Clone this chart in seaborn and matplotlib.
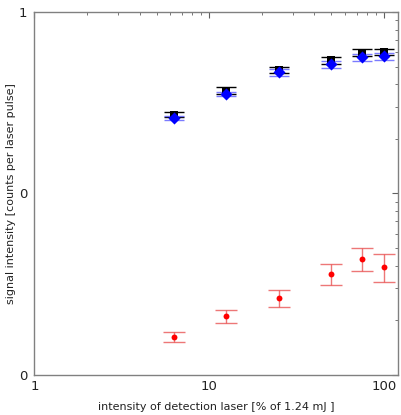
import matplotlib
matplotlib.use("Agg")
import matplotlib.pyplot as plt
import matplotlib.ticker as mticker
import pandas as pd
import seaborn as sns

# --- Data ---
laser_pct = [6.25, 12.5, 25, 50, 75, 100]

black_signal = [0.272, 0.369, 0.482, 0.541, 0.597, 0.601]
black_err = [0.008, 0.016, 0.018, 0.026, 0.025, 0.025]

blue_signal = [0.261, 0.354, 0.466, 0.514, 0.564, 0.569]
blue_err = [0.007, 0.009, 0.022, 0.024, 0.024, 0.024]

red_signal = [0.0162, 0.0210, 0.0264, 0.0360, 0.0436, 0.0395]
red_err = [0.0011, 0.0018, 0.0028, 0.0047, 0.0061, 0.0070]

y_tick_vals = [0.01, 0.1, 1]
y_tick_labels = ["0", "0", "1"]
x_tick_vals = [1, 10, 100]
x_tick_labels = ["1", "10", "100"]

sns.set_style("white")
plt.rcParams["font.family"] = ["DejaVu Sans"]

fig = plt.figure(figsize=(4.01, 4.15), dpi=100)
ax = fig.add_axes([0.086, 0.097, 0.906, 0.874])

# error bars first, markers on top
ax.errorbar(laser_pct, black_signal, yerr=black_err, fmt="none",
            ecolor="black", elinewidth=1.0, capsize=7.5, capthick=1.0, zorder=2)
ax.errorbar(laser_pct, blue_signal, yerr=blue_err, fmt="none",
            ecolor="#5a5aff", elinewidth=1.0, capsize=7.5, capthick=1.0, alpha=0.8, zorder=3)
ax.errorbar(laser_pct, red_signal, yerr=red_err, fmt="none",
            ecolor="#e84a4a", elinewidth=1.0, capsize=8, capthick=1.0, alpha=0.75, zorder=2)

df_black = pd.DataFrame({"x": laser_pct, "y": black_signal})
df_blue = pd.DataFrame({"x": laser_pct, "y": blue_signal})
df_red = pd.DataFrame({"x": laser_pct, "y": red_signal})

sns.scatterplot(data=df_black, x="x", y="y", marker="s", color="black",
                s=28, linewidth=0, ax=ax, zorder=4)
sns.scatterplot(data=df_blue, x="x", y="y", marker="D", color="#0000ff",
                s=38, linewidth=0, ax=ax, zorder=5)
sns.scatterplot(data=df_red, x="x", y="y", marker="o", color="#ff0000",
                s=18, linewidth=0, ax=ax, zorder=5)

ax.set_xscale("log")
ax.set_yscale("log")
ax.set_xlim(1, 120)
ax.set_ylim(0.01, 1)

ax.xaxis.set_major_locator(mticker.FixedLocator(x_tick_vals))
ax.xaxis.set_major_formatter(mticker.FixedFormatter(x_tick_labels))
ax.yaxis.set_major_locator(mticker.FixedLocator(y_tick_vals))
ax.yaxis.set_major_formatter(mticker.FixedFormatter(y_tick_labels))
ax.xaxis.set_minor_locator(mticker.LogLocator(base=10, subs=range(2, 10)))
ax.yaxis.set_minor_locator(mticker.LogLocator(base=10, subs=range(2, 10)))
ax.xaxis.set_minor_formatter(mticker.NullFormatter())
ax.yaxis.set_minor_formatter(mticker.NullFormatter())

for side in ["left", "right", "top", "bottom"]:
    ax.spines[side].set_color("#808080")
    ax.spines[side].set_linewidth(1.0)

ax.tick_params(which="both", direction="in", top=True, right=True,
               color="#606060", labelsize=9.5, labelcolor="#222222")
ax.tick_params(axis="y", which="major", pad=5)
ax.tick_params(axis="x", which="major", pad=4)
ax.tick_params(which="major", length=4, width=0.8)
ax.tick_params(which="minor", length=2.5, width=0.6)

ax.set_xlabel("intensity of detection laser [% of 1.24 mJ ]", fontsize=8,
              color="#222222", labelpad=6)
ax.set_ylabel("signal intensity [counts per laser pulse]", fontsize=8,
              color="#222222")
ax.yaxis.set_label_coords(-0.052, 0.5)

fig.savefig("out.png", dpi=100)
